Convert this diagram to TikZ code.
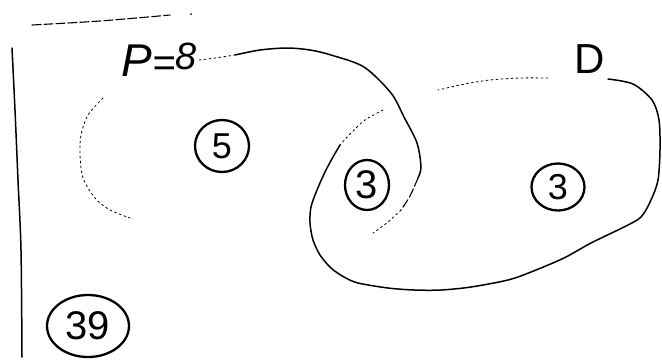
\documentclass[tikz,border=0pt]{standalone}
\usepackage{fontspec}
\setmainfont{Liberation Sans}
\usetikzlibrary{shapes.geometric}
\begin{document}
\begin{tikzpicture}[x=1pt,y=-1pt,
  ink/.style={line width=1.5pt, line cap=round, line join=round},
  faint/.style={line width=0.8pt, dash pattern=on 2pt off 3pt, line cap=round},
  broken/.style={line width=1.1pt, dash pattern=on 9pt off 3pt, line cap=round},
  count/.style={draw, ellipse, line width=2.3pt, inner sep=0pt, font=\fontsize{36}{36}\selectfont},
  lab/.style={inner sep=0pt, font=\fontsize{40}{40}\selectfont\itshape}]
\useasboundingbox (0,0) rectangle (662,360);

% frame
\draw[broken] plot[smooth] coordinates {(32,25) (100,21) (170,15)};
\fill (191,14) circle (1pt);
\draw[ink] plot[smooth] coordinates {(12,48) (15,110) (18,180) (21,250) (22,357)};

% labels
\node[lab] (p) at (159,60) {{\fontsize{46}{46}\selectfont P}={\fontsize{38}{38}\selectfont\raisebox{7pt}{8}}};
\node[lab, font=\fontsize{42}{42}\selectfont] (d) at (590,59) {D};

% set P
\draw[faint] plot[smooth] coordinates {(103,98) (88,115) (81,135) (80,155) (83,178) (95,198) (110,210) (130,218)};
\draw[faint] plot[smooth] coordinates {(199,60) (215,58) (235,55)};
\draw[ink] plot[smooth] coordinates {(235,55) (260,50) (287,48) (310,50) (331,55) (364,67) (391,93) (404,117) (417,143) (421,167) (418,178)};
\draw[broken] plot[smooth] coordinates {(418,178) (410,196) (401,210)};
\draw[faint] plot[smooth] coordinates {(401,210) (388,222) (373,233)};

% set D
\draw[faint] plot[smooth] coordinates {(548,78) (520,78) (490,80) (465,84) (438,90)};
\draw[faint] plot[smooth] coordinates {(383,110) (365,120) (351,133) (340,145)};
\draw[ink] plot[smooth] coordinates {(340,145) (333,157) (325,172) (317,190) (311,207) (310,223) (313,240) (320,255) (331,268) (344,277) (358,283) (388,288) (414,290) (441,290) (471,287) (508,280) (531,272) (564,258) (591,243) (624,227) (641,217) (651,200) (658,180) (660,150) (659,120) (652,100) (633,84) (608,79)};

% counts
\node[count, minimum width=54pt, minimum height=52pt] (n5) at (222,146) {5};
\node[count, minimum width=44pt, minimum height=50pt, font=\fontsize{40}{40}\selectfont] (n3a) at (367,185) {3};
\node[count, minimum width=53pt, minimum height=47pt] (n3b) at (558,187) {3};
\node[count, minimum width=82pt, minimum height=62pt, font=\fontsize{40}{40}\selectfont] (n39) at (88,326) {39};
\end{tikzpicture}
\end{document}
